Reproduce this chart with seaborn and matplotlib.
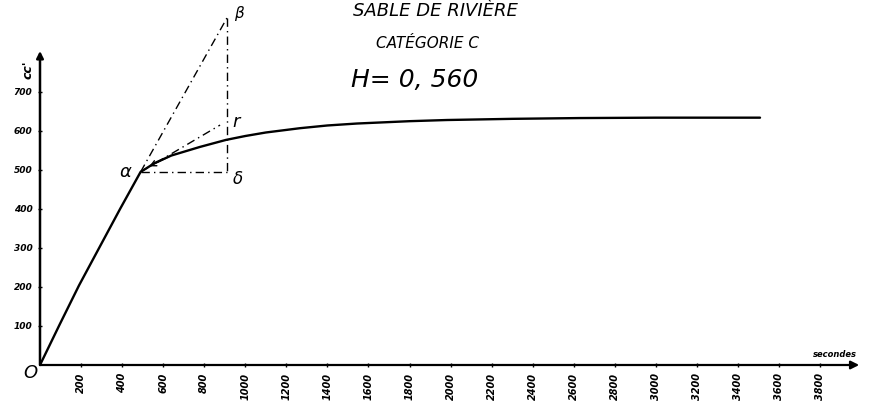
import matplotlib
matplotlib.use("Agg")
import matplotlib.pyplot as plt
import seaborn as sns
import pandas as pd

# ---- data ----
temps = [0, 95, 190, 290, 390, 490, 560, 640, 779, 906, 1000, 1100, 1266, 1400, 1544, 1800, 1982, 2300, 2630, 3000, 3507]
volume = [0, 103, 204, 302, 400, 495, 518, 537, 559, 577, 587, 596, 607, 614, 619, 625, 628, 631, 633, 634, 634]

x_ticks = [200, 400, 600, 800, 1000, 1200, 1400, 1600, 1800, 2000, 2200, 2400, 2600,
           2800, 3000, 3200, 3400, 3600, 3800]
y_ticks = [100, 200, 300, 400, 500, 600, 700]

alpha_pt = (490, 495)
beta_pt = (911, 890)
delta_pt = (911, 495)
r_pt = (877, 615)

titles = ["SABLE DE RIVIÈRE", "CATÉGORIE C", "H= 0, 560"]

df = pd.DataFrame({"t": temps, "V": volume})

sns.set_style("white")
plt.rcParams["font.family"] = ["DejaVu Sans"]
plt.rcParams["text.color"] = "black"
plt.rcParams["xtick.color"] = "black"
plt.rcParams["ytick.color"] = "black"

fig = plt.figure(figsize=(8.7, 4.15), dpi=100)
ax = fig.add_axes([40 / 870, 50 / 415, 820 / 870, 355 / 415])

sns.lineplot(data=df, x="t", y="V", ax=ax, color="black", linewidth=1.7)

# construction lines (dash-dot)
ls = dict(color="black", linewidth=1.0, linestyle=(0, (6, 3, 1, 3)), clip_on=False)
ax.plot([alpha_pt[0], beta_pt[0]], [alpha_pt[1], beta_pt[1]], **ls)
ax.plot([alpha_pt[0], r_pt[0]], [alpha_pt[1], r_pt[1]], **ls)
ax.plot([alpha_pt[0], delta_pt[0]], [alpha_pt[1], delta_pt[1]], **ls)
ax.plot([beta_pt[0], delta_pt[0]], [beta_pt[1], delta_pt[1]], **ls)

ax.set_xlim(0, 3994)
ax.set_ylim(0, 910)

for s in ["top", "right", "left", "bottom"]:
    ax.spines[s].set_visible(False)

# axes with arrows
ax.annotate("", xy=(0, 805), xytext=(0, 0),
            arrowprops=dict(arrowstyle="-|>", color="black", lw=1.8,
                            mutation_scale=10, shrinkA=0, shrinkB=0))
ax.annotate("", xy=(3990, 0), xytext=(0, 0),
            arrowprops=dict(arrowstyle="-|>", color="black", lw=1.6,
                            mutation_scale=12, shrinkA=0, shrinkB=0))

ax.set_xticks(x_ticks)
ax.set_xticklabels([str(v) for v in x_ticks], rotation=90, fontsize=7,
                   fontweight="bold", fontstyle="italic")
ax.set_yticks(y_ticks)
ax.set_yticklabels([str(v) for v in y_ticks], fontsize=6.5,
                   fontweight="bold", fontstyle="italic")
ax.tick_params(axis="both", length=3, width=1, direction="inout", pad=4,
               bottom=True, left=True, colors="black")
ax.set_xlabel("")
ax.set_ylabel("")

# labels
ax.text(-58, 756, "cc'", rotation=90, fontsize=9, fontweight="bold",
        fontstyle="italic", ha="center", va="center", clip_on=False)
ax.text(-49, -20, "O", fontsize=13, fontstyle="italic", ha="center",
        va="center", clip_on=False)
ax.text(3870, 26, "secondes", fontsize=6, fontweight="bold",
        fontstyle="italic", ha="center", va="center", clip_on=False)

ax.annotate("α", xy=alpha_pt, xytext=(-7, 0), textcoords="offset points",
            fontsize=13, fontstyle="italic", ha="right", va="center")
ax.annotate("β", xy=beta_pt, xytext=(5, 3), textcoords="offset points",
            fontsize=11, fontstyle="italic", ha="left", va="center",
            annotation_clip=False)
ax.annotate("r", xy=(beta_pt[0], 623), xytext=(4, 0), textcoords="offset points",
            fontsize=13, fontstyle="italic", ha="left", va="center")
ax.annotate("δ", xy=delta_pt, xytext=(4, -5), textcoords="offset points",
            fontsize=12, fontstyle="italic", ha="left", va="center")

# small arrow on curve pointing to alpha
ax.annotate("", xy=(520, 506), xytext=(640, 537),
            arrowprops=dict(arrowstyle="->", color="black", lw=1.0))

# titles
fig.text(435 / 870, 1 - 11 / 415, titles[0], fontsize=13, fontstyle="italic",
         ha="center", va="center")
fig.text(428 / 870, 1 - 44 / 415, titles[1], fontsize=11, fontstyle="italic",
         ha="center", va="center")
fig.text(415 / 870, 1 - 80 / 415, titles[2], fontsize=18, fontstyle="italic",
         ha="center", va="center")

fig.savefig("out.png", dpi=100)
